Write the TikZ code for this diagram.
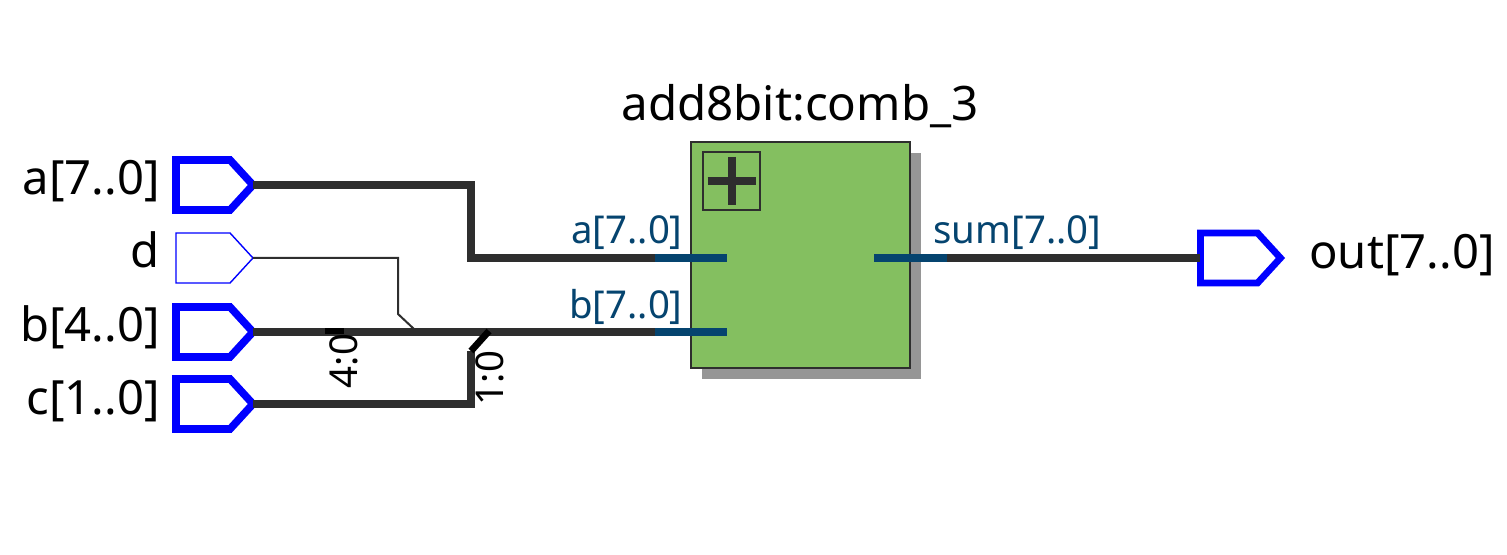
\documentclass[tikz,border=0pt]{standalone}
\usepackage{fontspec}
\setmainfont{Noto Sans}
\usetikzlibrary{shapes.symbols}
\definecolor{wiregray}{HTML}{2E2E2E}
\definecolor{stubblue}{HTML}{05446F}
\definecolor{blockgreen}{HTML}{84BF60}
\definecolor{shadowgray}{HTML}{969696}
\tikzset{
	pinbus/.style={draw=blue, fill=white, line width=3.8pt, signal, signal to=east, signal pointer angle=95, minimum width=38.5pt, minimum height=25pt, inner sep=0pt, outer sep=0pt, line join=miter},
	pinthin/.style={pinbus, line width=0.7pt},
	bus/.style={wiregray, line width=3.7pt},
	stub/.style={stubblue, line width=3.9pt},
	rip/.style={black, line width=3.4pt},
	pinlabel/.style={anchor=base east, inner sep=0pt, font=\fontsize{23.6}{23.6}\selectfont},
	portlabel/.style={inner sep=0pt, text=stubblue, font=\fontsize{19.2}{19.2}\selectfont},
	riplabel/.style={inner sep=0pt, rotate=90, font=\fontsize{19.2}{19.2}\selectfont}
}
\begin{document}
\begin{tikzpicture}[x=0.5pt, y=-0.5pt]
	\useasboundingbox (0,0) rectangle (1507,555);
	% input and output pins
	\node[pinbus] (pina) at (203,185) {};
	\node[pinthin] (pind) at (203,258) {};
	\node[pinbus] (pinb) at (203,332) {};
	\node[pinbus] (pinc) at (203,404) {};
	\node[pinlabel] (labela) at (160,195) {a[7..0]};
	\node[pinlabel] (labeld) at (160,268) {d};
	\node[pinlabel] (labelb) at (160,341.5) {b[4..0]};
	\node[pinlabel] (labelc) at (160,414.5) {c[1..0]};
	% adder block
	\node[fill=shadowgray, minimum width=109.5pt, minimum height=113pt, inner sep=0pt] (shadow) at (811.5,266) {};
	\node[draw=wiregray, fill=blockgreen, line width=1pt, minimum width=109.5pt, minimum height=113pt, inner sep=0pt] (adder) at (800.5,255) {};
	\node[draw=wiregray, line width=1pt, minimum width=28.5pt, minimum height=29pt, inner sep=0pt] (plusbox) at (731.5,181) {};
	\draw[wiregray, line width=3.6pt] (plusbox.center) ++(-24,0) -- ++(48,0);
	\draw[wiregray, line width=4pt] (plusbox.center) ++(0,-24) -- ++(0,48);
	\node[anchor=base, inner sep=0pt, font=\fontsize{23.75}{23.75}\selectfont] (title) at (800,121) {add8bit:comb\_3};
	% block ports
	\coordinate (turna) at (471,258);
	\coordinate (ina) at (655,258);
	\coordinate (ainend) at (727,258);
	\coordinate (inb) at (655,332);
	\coordinate (binend) at (727,332);
	\coordinate (sumstart) at (874,258);
	\coordinate (sumout) at (947,258);
	\draw[stub] (ina) -- (ainend);
	\draw[stub] (inb) -- (binend);
	\draw[stub] (sumstart) -- (sumout);
	\node[portlabel, anchor=base east] (porta) at (683,244) {a[7..0]};
	\node[portlabel, anchor=base east] (portb) at (683,318) {b[7..0]};
	\node[portlabel, anchor=base west] (portsum) at (933,244) {sum[7..0]};
	% wires
	\coordinate (kinkd) at (398,314);
	\coordinate (tapd) at (414,329);
	\coordinate (ripc) at (471,351);
	\draw[bus] (pina.east) -| (turna) -- (ina);
	\draw[wiregray, line width=1pt] (pind.east) -| (kinkd) -- (tapd);
	\draw[bus] (pinb.east) -- (inb);
	\draw[bus] (pinc.east) -| (ripc);
	\node[pinbus, line width=3.4pt, minimum width=40pt] (pinout) at (1229,258) {};
	\draw[bus] (sumout) -- (pinout.west);
	\node[pinlabel, anchor=base west] (labelout) at (1309,268.5) {out[7..0]};
	% bus rippers
	\coordinate (ripbl) at (325,331);
	\coordinate (ripbr) at (344,331);
	\coordinate (ripcr) at (489,331);
	\draw[rip] (ripbl) -- (ripbr);
	\draw[rip] (ripc) -- (ripcr);
	\node[riplabel] (ripa) at (344,361) {4:0};
	\node[riplabel] (ripd) at (490,378) {1:0};
\end{tikzpicture}
\end{document}
